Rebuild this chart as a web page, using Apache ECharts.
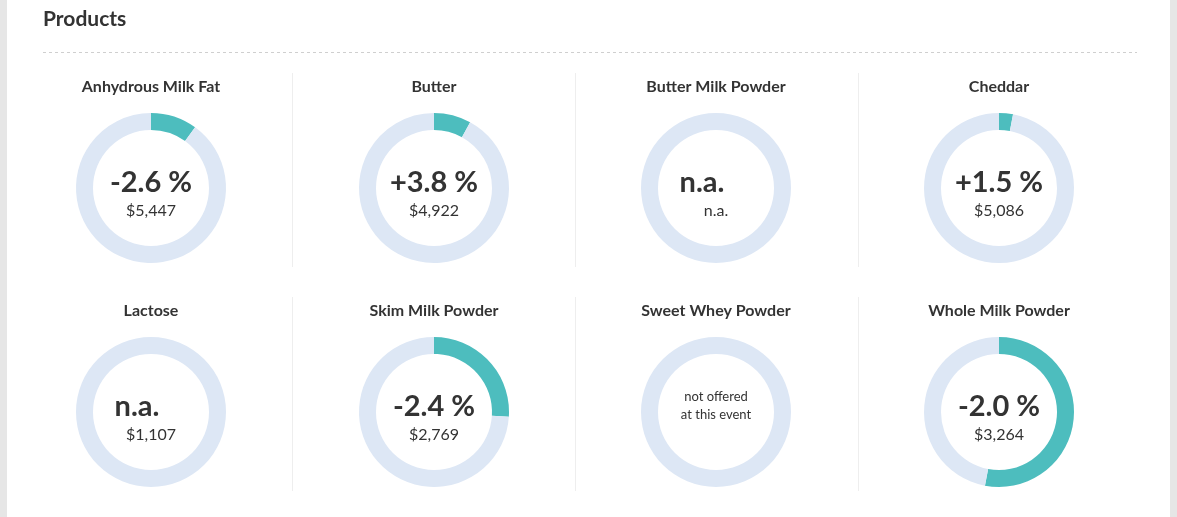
<!DOCTYPE html>
<html>
<head>
<meta charset="utf-8">
<script src="https://cdn.jsdelivr.net/npm/echarts@6/dist/echarts.min.js"></script>
<style>
  html, body { margin: 0; padding: 0; background: #fff; }
  #chart { width: 1177px; height: 517px; }
</style>
</head>
<body>
<div id="chart"></div>
<script>
// ---- data ----
const heading = 'Products';
const products = ['Anhydrous Milk Fat', 'Butter', 'Butter Milk Powder', 'Cheddar',
                  'Lactose', 'Skim Milk Powder', 'Sweet Whey Powder', 'Whole Milk Powder'];
const changeLabels = ['-2.6 %', '+3.8 %', 'n.a.', '+1.5 %', 'n.a.', '-2.4 %', null, '-2.0 %'];
const priceLabels = ['$5,447', '$4,922', 'n.a.', '$5,086', '$1,107', '$2,769', null, '$3,264'];
const shares = [10, 8, 0, 3, 0, 26, 0, 53];   // filled share of ring, %
const notOfferedText = 'not offered\nat this event';

// ---- layout ----
const colX = [151, 434, 716, 999];
const rowY = [188, 412];
const sepX = [292, 575, 858];
const teal = '#4dbdbe';
const pale = '#dde7f5';
const ink = '#333333';
const font = 'Lato, "Open Sans", sans-serif';

const chart = echarts.init(document.getElementById('chart'));

const series = [];
const graphics = [
  { type: 'rect', shape: { x: 0, y: 0, width: 7, height: 517 }, style: { fill: '#e6e6e6' }, silent: true },
  { type: 'rect', shape: { x: 1170, y: 0, width: 7, height: 517 }, style: { fill: '#e6e6e6' }, silent: true },
  { type: 'text', x: 43, y: 19, style: { text: heading, font: 'bold 21px ' + font, fill: ink, textAlign: 'left', textVerticalAlign: 'middle' } },
  { type: 'line', shape: { x1: 43, y1: 52.5, x2: 1137, y2: 52.5 }, style: { stroke: '#cfcfcf', lineWidth: 1, lineDash: [3, 3] }, silent: true }
];

rowY.forEach(function (cy) {
  sepX.forEach(function (sx) {
    graphics.push({ type: 'line', shape: { x1: sx + 0.5, y1: cy - 115, x2: sx + 0.5, y2: cy + 79 },
      style: { stroke: '#eeeeee', lineWidth: 1 }, silent: true });
  });
});

products.forEach(function (name, i) {
  const cx = colX[i % 4];
  const cy = rowY[Math.floor(i / 4)];
  series.push({
    type: 'pie',
    center: [cx, cy],
    radius: [58, 75],
    startAngle: 90,
    clockwise: true,
    silent: true,
    animation: false,
    label: { show: false },
    labelLine: { show: false },
    emphasis: { disabled: true },
    data: [
      { value: shares[i], name: name, itemStyle: { color: teal } },
      { value: 100 - shares[i], name: '', itemStyle: { color: pale } }
    ]
  });
  graphics.push({ type: 'text', x: cx, y: cy - 101,
    style: { text: name, font: 'bold 16px ' + font, fill: ink, textAlign: 'center', textVerticalAlign: 'middle' } });
  if (changeLabels[i] === null) {
    graphics.push({ type: 'text', x: cx, y: cy - 6,
      style: { text: notOfferedText, font: '13px ' + font, fill: ink, textAlign: 'center', textVerticalAlign: 'middle', lineHeight: 18 } });
  } else {
    const isNA = changeLabels[i] === 'n.a.';
    graphics.push({ type: 'text', x: isNA ? cx - 14 : cx, y: cy - 5,
      style: { text: changeLabels[i], font: 'bold 29px ' + font, fill: ink, textAlign: 'center', textVerticalAlign: 'middle' } });
    graphics.push({ type: 'text', x: cx, y: cy + 23,
      style: { text: priceLabels[i], font: '16px ' + font, fill: ink, textAlign: 'center', textVerticalAlign: 'middle' } });
  }
});

chart.setOption({
  backgroundColor: '#ffffff',
  animation: false,
  series: series,
  graphic: graphics
});
</script>
</body>
</html>
